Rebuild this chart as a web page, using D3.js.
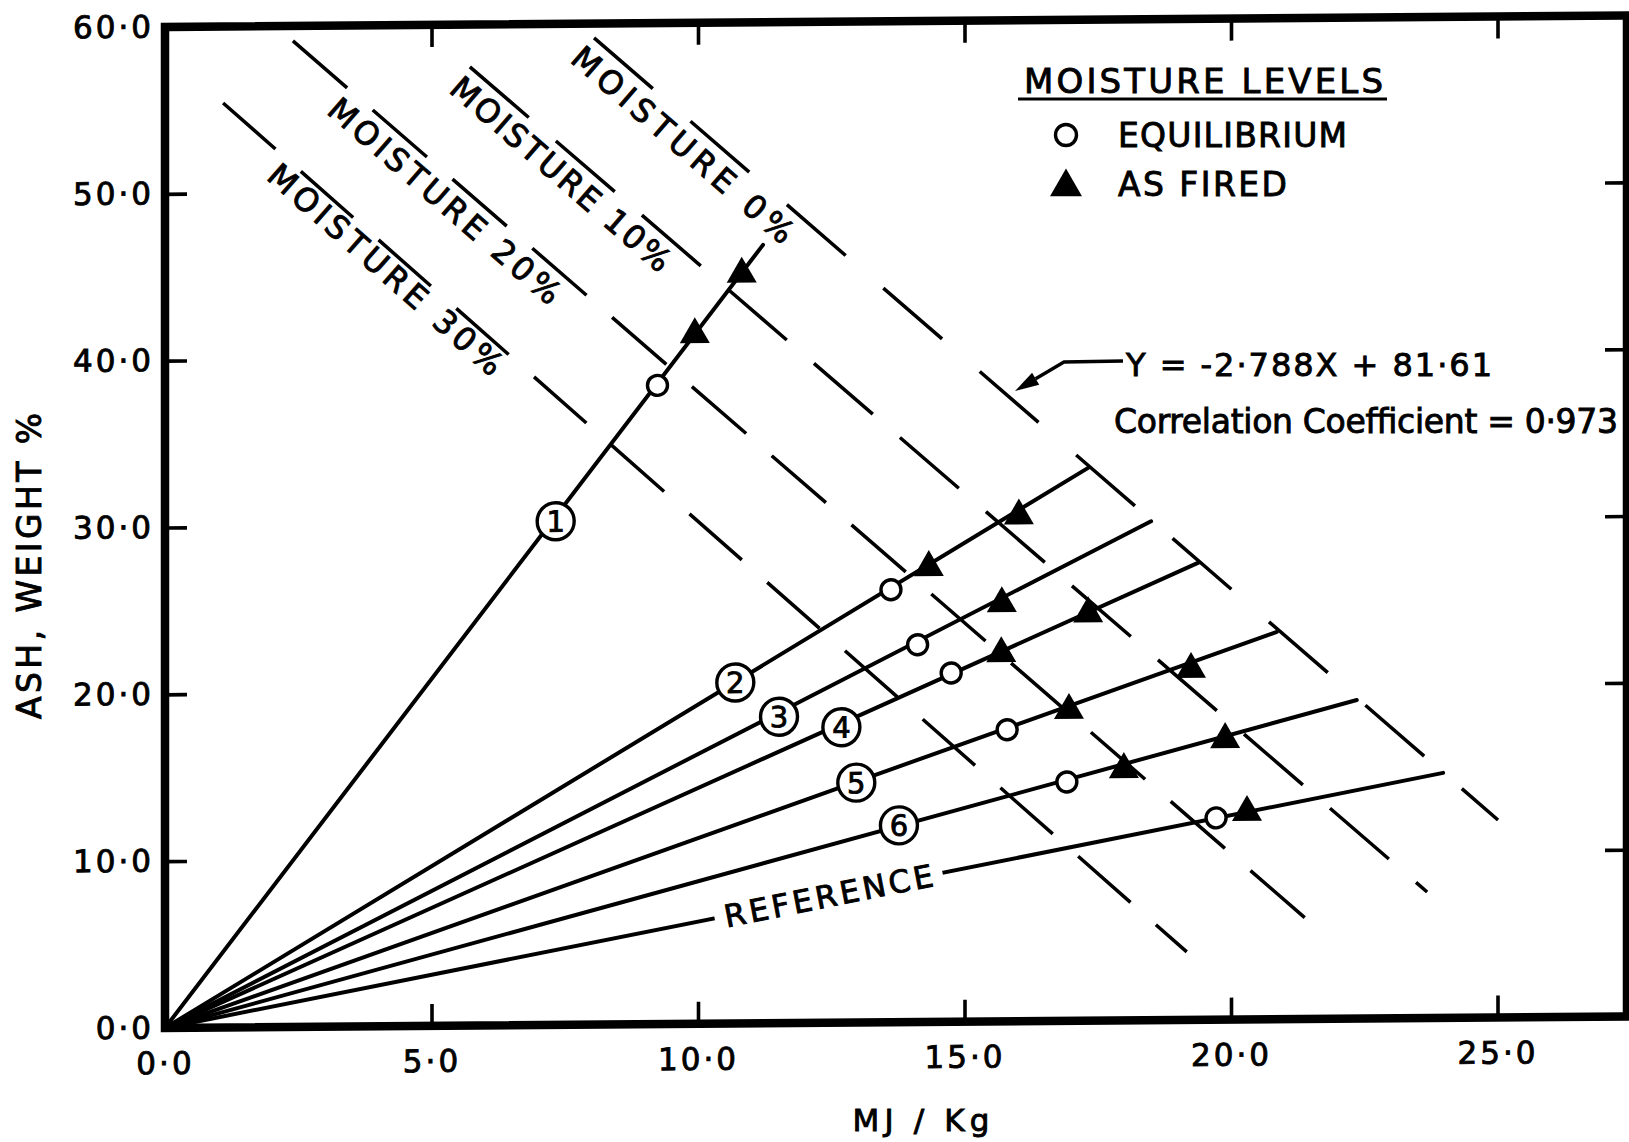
<!DOCTYPE html>
<html>
<head>
<meta charset="utf-8">
<script src="https://cdn.jsdelivr.net/npm/d3@7"></script>
<style>
  html, body { margin: 0; padding: 0; background: #ffffff; }
  svg { display: block; }
  text { font-family: "DejaVu Sans", "Liberation Sans", sans-serif; fill: #000; stroke: #000; stroke-width: 0.9px; }
</style>
</head>
<body>
<svg id="chart" width="1629" height="1142"></svg>
<script>
// ---------------- DATA ----------------
const xTickValues = [0, 5, 10, 15, 20, 25];
const xTickLabels = ["0·0", "5·0", "10·0", "15·0", "20·0", "25·0"];
const yTickValues = [0, 10, 20, 30, 40, 50, 60];
const yTickLabels = ["0·0", "10·0", "20·0", "30·0", "40·0", "50·0", "60·0"];

// radial lines (coal samples) from the origin to the 0 % moisture line
const seriesNames = ["1", "2", "3", "4", "5", "6", "REFERENCE"];
const lineEndX = [11.22, 17.32, 18.50, 19.38, 20.86, 22.36, 23.98];
const lineEndY = [46.66, 33.14, 29.91, 27.39, 23.22, 19.10, 14.69];
const labelX = [7.33, 10.70, 11.52, 12.69, 12.97, 13.77, 12.45];
const labelY = [30.19, 20.44, 18.37, 17.71, 14.38, 11.80, 7.62];

// equilibrium moisture points (open circles), one per line
const equilibriumX = [9.24, 13.62, 14.12, 14.75, 15.80, 16.92, 19.72];
const equilibriumY = [38.29, 25.93, 22.62, 20.91, 17.48, 14.32, 12.10];

// as-fired points (filled triangles)
const asFiredX = [[9.94, 10.82], [14.33, 16.02], [15.70], [15.69, 17.32], [16.96, 19.25], [17.99, 19.89], [20.30]];
const asFiredY = [[41.32, 44.92], [27.25, 30.30], [25.05], [22.05, 24.40], [18.62, 21.02], [15.05, 16.80], [12.42]];

// constant-moisture lines (dashed)
const moistureLevels = ["0%", "10%", "20%", "30%"];
const moistureStartX = [8.05, 5.72, 2.40, 1.09];
const moistureStartY = [59.15, 57.47, 59.11, 55.42];
const moistureEndX = [25.01, 23.68, 21.76, 19.17];
const moistureEndY = [11.84, 7.56, 5.03, 4.08];
const moistureLabelX = [9.72, 7.43, 5.25, 4.14];
const moistureLabelY = [52.70, 51.01, 49.45, 45.37];

const legendItems = ["EQUILIBRIUM", "AS FIRED"];
const equationText = "Y =  -2·788X + 81·61";
const correlationText = "Correlation Coefficient = 0·973";

// ---------------- LAYOUT / STYLE ----------------
const svg = d3.select("#chart");
const x = d3.scaleLinear().domain([0, 25]).range([165, 1497.5]);
const y = d3.scaleLinear().domain([0, 60]).range([1028, 27]);
const frameRight = 1627;
const rayWidth = 4, dashWidth = 3.5, tickWidth = 3.6;
const dashPatterns = ["78 50", "78 36", "72 34", "70 34"];
const moistureLabelLength = [283, 280, 297, 302];

svg.append("rect").attr("width", 1629).attr("height", 1142).attr("fill", "#fff");

// the scanned figure is slightly tilted: shear the plot accordingly
const plot = svg.append("g")
  .attr("transform", `translate(${x(0)},${y(0)}) skewY(-0.45) translate(${-x(0)},${-y(0)})`);

// ---- axes (ticks inward) ----
function styleAxis(g) {
  g.attr("font-size", null).attr("font-family", null);
  g.select(".domain").remove();
  g.selectAll(".tick line").attr("stroke", "#000").attr("stroke-width", tickWidth);
  g.selectAll(".tick text")
    .style("font-size", "31px")
    .style("letter-spacing", "3px")
    .attr("fill", "#000");
}
plot.append("g")
  .attr("transform", `translate(0,${y(0)})`)
  .call(d3.axisBottom(x).tickValues(xTickValues).tickFormat((d, i) => xTickLabels[i])
    .tickSizeInner(-22).tickSizeOuter(0).tickPadding(24))
  .call(styleAxis);
plot.append("g")
  .attr("transform", `translate(${x(0)},0)`)
  .call(d3.axisLeft(y).tickValues(yTickValues).tickFormat((d, i) => yTickLabels[i])
    .tickSizeInner(-22).tickSizeOuter(0).tickPadding(11))
  .call(styleAxis);
plot.append("g")
  .attr("transform", `translate(0,${y(60)})`)
  .call(d3.axisTop(x).tickValues(xTickValues.slice(1)).tickFormat("")
    .tickSizeInner(-22).tickSizeOuter(0))
  .call(styleAxis);
plot.append("g")
  .attr("transform", `translate(${frameRight},0)`)
  .call(d3.axisRight(y).tickValues(yTickValues.slice(1, -1)).tickFormat("")
    .tickSizeInner(-22).tickSizeOuter(0))
  .call(styleAxis);

// frame
plot.append("rect")
  .attr("x", x(0)).attr("y", y(60))
  .attr("width", frameRight - x(0)).attr("height", y(0) - y(60))
  .attr("fill", "none").attr("stroke", "#000").attr("stroke-width", 8.5);

// ---- moisture lines ----
moistureLevels.forEach((lvl, i) => {
  const x1 = x(moistureStartX[i]), y1 = y(moistureStartY[i]);
  const x2 = x(moistureEndX[i]), y2 = y(moistureEndY[i]);
  plot.append("line")
    .attr("x1", x1).attr("y1", y1).attr("x2", x2).attr("y2", y2)
    .attr("stroke", "#000").attr("stroke-width", dashWidth)
    .attr("stroke-dasharray", dashPatterns[i]);
  const ang = Math.atan2(y2 - y1, x2 - x1) * 180 / Math.PI;
  plot.append("text")
    .attr("transform", `translate(${x(moistureLabelX[i])},${y(moistureLabelY[i])}) rotate(${ang})`)
    .attr("text-anchor", "middle").attr("dy", "0.36em")
    .style("font-size", "32px")
    .attr("textLength", moistureLabelLength[i]).attr("lengthAdjust", "spacing")
    .text("MOISTURE " + lvl);
});

// ---- rays ----
seriesNames.forEach((name, i) => {
  plot.append("line")
    .attr("x1", x(0)).attr("y1", y(0))
    .attr("x2", x(lineEndX[i])).attr("y2", y(lineEndY[i]))
    .attr("stroke", "#000").attr("stroke-width", rayWidth).attr("stroke-linecap", "round");
});

// REFERENCE label written in a gap of its line
{
  const i = seriesNames.length - 1;
  const ang = Math.atan2(y(lineEndY[i]) - y(0), x(lineEndX[i]) - x(0)) * 180 / Math.PI;
  const gl = plot.append("g")
    .attr("transform", `translate(${x(labelX[i])},${y(labelY[i])}) rotate(${ang})`);
  gl.append("rect").attr("x", -116).attr("y", -9).attr("width", 232).attr("height", 18).attr("fill", "#fff");
  gl.append("text").attr("text-anchor", "middle").attr("dy", "0.36em")
    .style("font-size", "31px")
    .attr("textLength", 212).attr("lengthAdjust", "spacing")
    .text(seriesNames[i]);
}

// numbered circles
seriesNames.slice(0, 6).forEach((name, i) => {
  const cx = x(labelX[i]), cy = y(labelY[i]);
  plot.append("circle").attr("cx", cx).attr("cy", cy).attr("r", 18.5)
    .attr("fill", "#fff").attr("stroke", "#000").attr("stroke-width", 3.4);
  plot.append("text").attr("x", cx).attr("y", cy).attr("dy", "0.36em")
    .attr("text-anchor", "middle").style("font-size", "29px").text(name);
});

// triangle path helper (centroid at origin)
function triPath(side) {
  const h = side * Math.sqrt(3) / 2;
  return `M0,${-2 * h / 3}L${side / 2},${h / 3}L${-side / 2},${h / 3}Z`;
}

// as fired triangles
asFiredX.forEach((xs, i) => {
  xs.forEach((xv, j) => {
    plot.append("path").attr("d", triPath(30))
      .attr("transform", `translate(${x(xv)},${y(asFiredY[i][j])})`)
      .attr("fill", "#000");
  });
});

// equilibrium circles
equilibriumX.forEach((xv, i) => {
  plot.append("circle").attr("cx", x(xv)).attr("cy", y(equilibriumY[i])).attr("r", 10)
    .attr("fill", "#fff").attr("stroke", "#000").attr("stroke-width", 3.4);
});

// ---------------- annotations (outside the shear) ----------------
// legend
svg.append("text").attr("x", 1024).attr("y", 93).style("font-size", "34px")
  .attr("textLength", 359).attr("lengthAdjust", "spacing").text("MOISTURE LEVELS");
svg.append("line").attr("x1", 1018).attr("x2", 1387).attr("y1", 99).attr("y2", 99)
  .attr("stroke", "#000").attr("stroke-width", 3.2);
svg.append("circle").attr("cx", 1066).attr("cy", 135).attr("r", 10.5)
  .attr("fill", "#fff").attr("stroke", "#000").attr("stroke-width", 3.4);
svg.append("text").attr("x", 1118).attr("y", 147).style("font-size", "33px")
  .attr("textLength", 229).attr("lengthAdjust", "spacing").text(legendItems[0]);
svg.append("path").attr("d", triPath(32)).attr("transform", "translate(1066,187)").attr("fill", "#000");
svg.append("text").attr("x", 1118).attr("y", 196).style("font-size", "33px")
  .attr("textLength", 169).attr("lengthAdjust", "spacing").text(legendItems[1]);

// equation with leader arrow
{
  const bend = [1064, 362], tip = [1015, 391];
  const dx = tip[0] - bend[0], dy = tip[1] - bend[1], L = Math.hypot(dx, dy);
  const ux = dx / L, uy = dy / L, nx = -uy, ny = ux;
  const len = 24, hw = 7;
  const bx = tip[0] - len * ux, by = tip[1] - len * uy;
  svg.append("path").attr("d", `M1123,361L${bend[0]},${bend[1]}L${bx},${by}`)
    .attr("fill", "none").attr("stroke", "#000").attr("stroke-width", 3.4);
  svg.append("path")
    .attr("d", `M${tip[0]},${tip[1]}L${bx + hw * nx},${by + hw * ny}L${bx - hw * nx},${by - hw * ny}Z`)
    .attr("fill", "#000");
}
svg.append("text").attr("x", 1126).attr("y", 376).style("font-size", "32px")
  .attr("textLength", 366).attr("lengthAdjust", "spacing").text(equationText);
svg.append("text").attr("x", 1114).attr("y", 433).style("font-size", "33px")
  .attr("textLength", 504).attr("lengthAdjust", "spacing").text(correlationText);

// axis titles
svg.append("text").attr("transform", "translate(29,566) rotate(-90)")
  .attr("text-anchor", "middle").attr("dy", "0.36em").style("font-size", "33px")
  .attr("textLength", 306).attr("lengthAdjust", "spacing").text("ASH, WEIGHT %");
svg.append("text").attr("x", 921).attr("y", 1131).attr("text-anchor", "middle")
  .style("font-size", "31px").attr("textLength", 137).attr("lengthAdjust", "spacing").text("MJ / Kg");
</script>
</body>
</html>
